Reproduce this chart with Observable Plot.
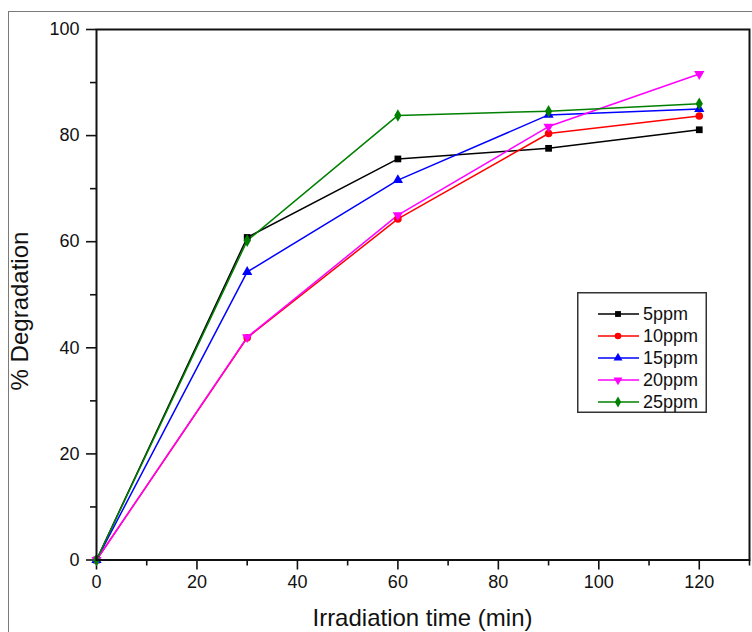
<!DOCTYPE html>
<html>
<head>
<meta charset="utf-8">
<script src="https://cdn.jsdelivr.net/npm/d3@7"></script>
<script src="https://cdn.jsdelivr.net/npm/@observablehq/plot@0.6"></script>
<style>
  html, body { margin: 0; padding: 0; background: #fff; overflow: hidden; }
  #wrap { position: relative; width: 752px; height: 632px; overflow: hidden; font-family: "Liberation Sans", Arial, sans-serif; }
  #outer { position: absolute; left: 8px; top: 11px; width: 800px; height: 700px; border: 1.5px solid #7a7a7a; box-sizing: border-box; pointer-events: none; }
  #chart { position: absolute; left: 0; top: 0; }
  #chart svg text { font-size: 18px; fill: #111; }
  .xtitle { position: absolute; left: 96px; width: 653px; top: 606px; text-align: center; font-size: 24px; color: #111; line-height: 1; }
  .ytitle { position: absolute; left: 20px; top: 311px; font-size: 24px; color: #111; line-height: 1; transform: translate(-50%, -50%) rotate(-90deg); white-space: nowrap; }
  #legend { position: absolute; left: 577px; top: 292px; }
</style>
</head>
<body>
<div id="wrap">
  <div id="outer"></div>
  <div id="chart"></div>
  <div class="xtitle">Irradiation time (min)</div>
  <div class="ytitle">% Degradation</div>
  <div id="legend"></div>
</div>
<script>
// ---- data ----
const times = [0, 30, 60, 90, 120];
const seriesNames = ["5ppm", "10ppm", "15ppm", "20ppm", "25ppm"];
const deg5ppm  = [0, 60.8, 75.6, 77.6, 81.1];
const deg10ppm = [0, 41.9, 64.3, 80.4, 83.7];
const deg15ppm = [0, 54.3, 71.6, 83.9, 85.0];
const deg20ppm = [0, 42.0, 65.0, 81.7, 91.6];
const deg25ppm = [0, 60.2, 83.8, 84.6, 86.0];
const xMajorTicks = [0, 20, 40, 60, 80, 100, 120];
const xMinorTicks = [10, 30, 50, 70, 90, 110, 130];
const yMajorTicks = [0, 20, 40, 60, 80, 100];
const yMinorTicks = [10, 30, 50, 70, 90];

const seriesColors = ["#000000", "#ff0000", "#0000ff", "#ff00ff", "#008000"];
const seriesSymbols = ["square", "circle", "triangle", "triangle", "diamond"];
const seriesRotate = [0, 0, 0, 180, 0];

const allValues = [deg5ppm, deg10ppm, deg15ppm, deg20ppm, deg25ppm];
const rows = [];
seriesNames.forEach((s, i) => {
  times.forEach((t, j) => rows.push({series: s, time: t, value: allValues[i][j], rot: seriesRotate[i]}));
});

const font = "'Liberation Sans', Arial, sans-serif";

const chart = Plot.plot({
  width: 752,
  height: 632,
  marginLeft: 96,
  marginRight: 3,
  marginTop: 29,
  marginBottom: 72.5,
  style: {fontFamily: font, background: "transparent", color: "#111"},
  x: {domain: [0, 130]},
  y: {domain: [0, 100]},
  color: {domain: seriesNames, range: seriesColors},
  symbol: {domain: seriesNames, range: seriesSymbols},
  marks: [
    Plot.axisX({ticks: xMinorTicks, tickSize: 6, text: null, label: null, strokeWidth: 1.6}),
    Plot.axisX({ticks: xMajorTicks, tickSize: 10, tickPadding: 5, fontSize: 18, label: null, strokeWidth: 1.6, tickFormat: d => String(d)}),
    Plot.axisY({ticks: yMinorTicks, tickSize: 6, text: null, label: null, strokeWidth: 1.6}),
    Plot.axisY({ticks: yMajorTicks, tickSize: 10, tickPadding: 7, fontSize: 18, label: null, strokeWidth: 1.6, tickFormat: d => String(d)}),
    Plot.line(rows, {x: "time", y: "value", z: "series", stroke: "series", strokeWidth: 1.5}),
    Plot.dot(rows, {x: "time", y: "value", fill: "series", symbol: "series", rotate: "rot", r: 3.8, stroke: null}),
    Plot.frame({stroke: "#111", strokeWidth: 2})
  ]
});
document.getElementById("chart").appendChild(chart);

// ---- legend ----
const lw = 130, lh = 121;
const lsvg = d3.select("#legend").append("svg").attr("width", lw).attr("height", lh)
  .style("overflow", "visible");
lsvg.append("rect").attr("x", 0.75).attr("y", 0.75).attr("width", lw - 1.5).attr("height", lh - 1.5)
  .attr("fill", "#fff").attr("stroke", "#333").attr("stroke-width", 1.5);
const symMap = {square: d3.symbolSquare, circle: d3.symbolCircle, triangle: d3.symbolTriangle, diamond: d3.symbolDiamond};
seriesNames.forEach((s, i) => {
  const y = 22 + i * 22;
  const g = lsvg.append("g").attr("transform", `translate(0,${y})`);
  g.append("line").attr("x1", 21).attr("x2", 62).attr("y1", 0).attr("y2", 0)
    .attr("stroke", seriesColors[i]).attr("stroke-width", 1.5);
  g.append("path").attr("d", d3.symbol(symMap[seriesSymbols[i]], Math.PI * 3.3 * 3.3)())
    .attr("transform", `translate(41,0) rotate(${seriesRotate[i]})`).attr("fill", seriesColors[i]);
  g.append("text").attr("x", 66).attr("y", 0).attr("dy", "0.35em")
    .attr("font-family", font).attr("font-size", 18).attr("fill", "#111").text(s);
});
</script>
</body>
</html>
